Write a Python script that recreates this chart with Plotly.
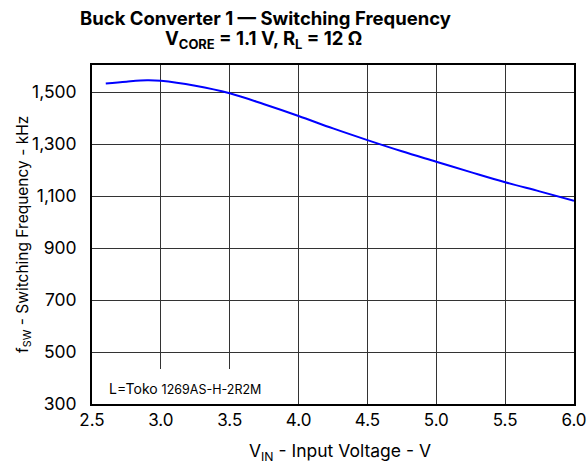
import plotly.graph_objects as go

vin = [2.6, 2.75, 2.9, 3.0, 3.25, 3.5, 3.75, 4.0, 4.25, 4.5, 4.75, 5.0, 5.25, 5.5, 5.75, 6.0]
fsw = [1533, 1540, 1545, 1543, 1524, 1495, 1453, 1408, 1360, 1315, 1272, 1232, 1192, 1153, 1118, 1082]
x_ticks = [2.5, 3.0, 3.5, 4.0, 4.5, 5.0, 5.5, 6.0]
y_ticks = [300, 500, 700, 900, 1100, 1300, 1500]

FONT = "Inter, Liberation Sans, Arial, sans-serif"
L, R, T, B = 92, 13, 65, 61
W, H = 587, 465
PH = H - T - B

def py(p):
    return (H - B - p) / PH

def px(p):
    return (p - L) / (W - L - R)

fig = go.Figure()
fig.add_trace(go.Scatter(x=vin, y=fsw, mode="lines",
                         line=dict(color="#0000FF", width=2, shape="spline"),
                         showlegend=False, hoverinfo="skip"))

fig.add_shape(type="rect", xref="x", yref="y", x0=2.5, x1=3.88, y0=300, y1=435,
              fillcolor="white", line=dict(width=0), layer="above")

fig.add_annotation(xref="paper", yref="paper", x=px(107), y=py(388), xanchor="left", yanchor="middle",
                   text="L=Toko <span style='font-size:12.5px'>1269AS-H-2R2M</span>",
                   showarrow=False, font=dict(family=FONT, size=14, color="black"))

fig.add_annotation(xref="paper", yref="paper", x=px(265), y=py(18), xanchor="center", yanchor="middle",
                   text="<b>Buck Converter 1 — Switching Frequency</b>",
                   showarrow=False, font=dict(family=FONT, size=18.5, color="black"))
fig.add_annotation(xref="paper", yref="paper", x=px(263), y=py(40), xanchor="center", yanchor="middle",
                   text="<b>V<sub>CORE</sub> = 1.1 V, R<sub>L</sub> = 12 Ω</b>",
                   showarrow=False, font=dict(family=FONT, size=18.5, color="black"))

fig.add_annotation(xref="paper", yref="paper", x=px(340), y=py(452), xanchor="center", yanchor="middle",
                   text="V<sub>IN</sub> - Input Voltage - V",
                   showarrow=False, font=dict(family=FONT, size=17.5, color="black"))
fig.add_annotation(xref="paper", yref="paper", x=px(23), y=py(235), xanchor="center", yanchor="middle",
                   text="f<sub>SW</sub> - Switching Frequency - kHz", textangle=-90,
                   showarrow=False, font=dict(family=FONT, size=15.5, color="black"))

fig.update_layout(
    width=W, height=H,
    margin=dict(l=L, r=R, t=T, b=B, autoexpand=False),
    paper_bgcolor="white", plot_bgcolor="white",
    font=dict(family=FONT, color="black"),
    xaxis=dict(range=[2.5, 6.0], tickvals=x_ticks, ticktext=[f"{v:.1f}" for v in x_ticks],
               showgrid=True, gridcolor="#333333", gridwidth=1,
               showline=True, linecolor="black", linewidth=2, mirror=True,
               ticks="", zeroline=False, automargin=False,
               tickfont=dict(family=FONT, size=17)),
    yaxis=dict(range=[300, 1604], tickvals=y_ticks,
               ticktext=[f"{v:,}\u00a0\u00a0" for v in y_ticks],
               showgrid=True, gridcolor="#333333", gridwidth=1,
               showline=True, linecolor="black", linewidth=2, mirror=True,
               ticks="", zeroline=False, automargin=False,
               tickfont=dict(family=FONT, size=17.5)),
)

fig.write_html("out.html", config={"displayModeBar": False},
               post_script="document.body.style.margin='0';document.body.style.overflow='hidden';")
